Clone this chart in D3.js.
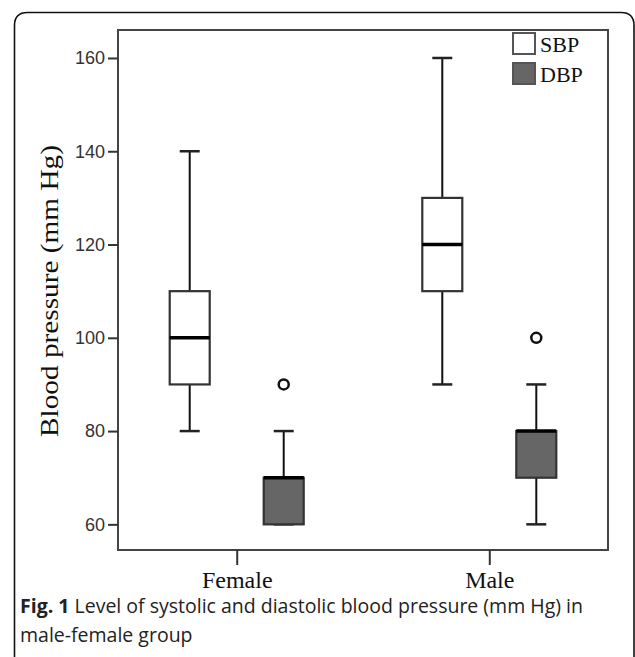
<!DOCTYPE html>
<html>
<head>
<meta charset="utf-8">
<script src="https://cdn.jsdelivr.net/npm/d3@7"></script>
<style>
  body { margin: 0; background: #fff; }
  svg { display: block; }
</style>
</head>
<body>
<div id="chart"></div>
<script>
// data
var groups = ["Female", "Male"];
var series = ["SBP", "DBP"];
// [min, q1, median, q3, max] per group
var sbpStats = [[80, 90, 100, 110, 140], [90, 110, 120, 130, 160]];
var dbpStats = [[60, 60, 70, 70, 80], [60, 70, 80, 80, 90]];
var sbpOutliers = [[], []];
var dbpOutliers = [[90], [100]];
var yTicks = [60, 80, 100, 120, 140, 160];
var seriesFill = { "SBP": "#ffffff", "DBP": "#666666" };

var width = 635, height = 657;
var frame = { left: 118, top: 30, right: 608, bottom: 550 };

var svg = d3.select("#chart").append("svg")
  .attr("width", width)
  .attr("height", height);

// outer rounded border (cut off at bottom)
var r = 13;
svg.append("path")
  .attr("d", "M14.5," + (height + 5) + " L14.5," + (12.5 + r) +
    " Q14.5,12.5 " + (14.5 + r) + ",12.5 L" + (634 - r) + ",12.5 Q634,12.5 634," + (12.5 + r) +
    " L634," + (height + 5))
  .attr("fill", "none")
  .attr("stroke", "#111")
  .attr("stroke-width", 1.6);

var y = d3.scaleLinear()
  .domain([54.5, 166])
  .range([frame.bottom, frame.top]);

var x = d3.scalePoint()
  .domain(groups)
  .range([frame.left, frame.right])
  .padding(0.47);

var xs = d3.scalePoint()
  .domain(series)
  .range([-47, 47]);

// data table for boxes
var boxes = [];
groups.forEach(function (g, i) {
  boxes.push({ group: g, series: "SBP", s: sbpStats[i], out: sbpOutliers[i] });
  boxes.push({ group: g, series: "DBP", s: dbpStats[i], out: dbpOutliers[i] });
});

var boxW = 40, capW = 20;

var plot = svg.append("g");

var b = plot.selectAll(".box")
  .data(boxes).enter()
  .append("g").attr("class", "box")
  .attr("transform", function (d) { return "translate(" + (x(d.group) + xs(d.series)) + ",0)"; });

// whiskers
b.append("line")
  .attr("x1", 0).attr("x2", 0)
  .attr("y1", function (d) { return y(d.s[4]); })
  .attr("y2", function (d) { return y(d.s[3]); })
  .attr("stroke", "#111").attr("stroke-width", 2);
b.append("line")
  .attr("x1", 0).attr("x2", 0)
  .attr("y1", function (d) { return y(d.s[1]); })
  .attr("y2", function (d) { return y(d.s[0]); })
  .attr("stroke", "#111").attr("stroke-width", 2);
// caps
b.append("line")
  .attr("x1", -capW / 2).attr("x2", capW / 2)
  .attr("y1", function (d) { return y(d.s[4]); })
  .attr("y2", function (d) { return y(d.s[4]); })
  .attr("stroke", "#222").attr("stroke-width", 2.5);
b.append("line")
  .attr("x1", -capW / 2).attr("x2", capW / 2)
  .attr("y1", function (d) { return y(d.s[0]); })
  .attr("y2", function (d) { return y(d.s[0]); })
  .attr("stroke", "#222").attr("stroke-width", 2.5);
// box
b.append("rect")
  .attr("x", -boxW / 2)
  .attr("width", boxW)
  .attr("y", function (d) { return y(d.s[3]); })
  .attr("height", function (d) { return y(d.s[1]) - y(d.s[3]); })
  .attr("fill", function (d) { return seriesFill[d.series]; })
  .attr("stroke", "#333")
  .attr("stroke-width", 2.2);
// median
b.append("line")
  .attr("x1", -boxW / 2).attr("x2", boxW / 2)
  .attr("y1", function (d) { return y(d.s[2]); })
  .attr("y2", function (d) { return y(d.s[2]); })
  .attr("stroke", "#000").attr("stroke-width", 3.5);
// outliers
b.selectAll("circle")
  .data(function (d) { return d.out; }).enter()
  .append("circle")
  .attr("cx", 0)
  .attr("cy", function (v) { return y(v); })
  .attr("r", 5)
  .attr("fill", "#fff")
  .attr("stroke", "#111")
  .attr("stroke-width", 2.5);

// frame
svg.append("rect")
  .attr("x", frame.left).attr("y", frame.top)
  .attr("width", frame.right - frame.left)
  .attr("height", frame.bottom - frame.top)
  .attr("fill", "none")
  .attr("stroke", "#444")
  .attr("stroke-width", 2);

// y axis
var yAxis = svg.append("g")
  .attr("transform", "translate(" + frame.left + ",0)")
  .call(d3.axisLeft(y).tickValues(yTicks).tickSize(10).tickPadding(3));
yAxis.select(".domain").remove();
yAxis.selectAll(".tick line").attr("stroke", "#333").attr("stroke-width", 2);
yAxis.selectAll(".tick text")
  .attr("fill", "#333")
  .style("font-family", "'Liberation Sans', Arial, sans-serif")
  .style("font-size", "18px");

// x axis
var xAxis = svg.append("g")
  .attr("transform", "translate(0," + frame.bottom + ")")
  .call(d3.axisBottom(x).tickSize(15).tickPadding(6));
xAxis.select(".domain").remove();
xAxis.selectAll(".tick line").attr("stroke", "#333").attr("stroke-width", 2);
xAxis.selectAll(".tick text")
  .attr("fill", "#111")
  .attr("dy", "0.72em")
  .style("font-family", "'Liberation Serif', 'Times New Roman', serif")
  .style("font-size", "24px");

// y title
svg.append("text")
  .attr("transform", "translate(58,291) rotate(-90)")
  .attr("text-anchor", "middle")
  .attr("textLength", 292)
  .attr("lengthAdjust", "spacingAndGlyphs")
  .style("font-family", "'Liberation Serif', 'Times New Roman', serif")
  .style("font-size", "25px")
  .attr("fill", "#111")
  .text("Blood pressure (mm Hg)");

// legend
var legend = svg.selectAll(".legend")
  .data(series).enter()
  .append("g").attr("class", "legend")
  .attr("transform", function (d, i) { return "translate(513," + (33 + i * 30) + ")"; });
legend.append("rect")
  .attr("width", 22).attr("height", 21)
  .attr("fill", function (d) { return seriesFill[d]; })
  .attr("stroke", "#555")
  .attr("stroke-width", 2);
legend.append("text")
  .attr("x", 27).attr("y", 19)
  .style("font-family", "'Liberation Serif', 'Times New Roman', serif")
  .style("font-size", "22px")
  .attr("fill", "#111")
  .text(function (d) { return d; });

// caption
var cap = svg.append("text")
  .attr("x", 20).attr("y", 613)
  .style("font-family", "'Open Sans', 'Noto Sans', sans-serif")
  .style("font-size", "19.5px")
  .attr("fill", "#222");
cap.append("tspan").style("font-weight", "bold").text("Fig. 1");
cap.append("tspan").text(" Level of systolic and diastolic blood pressure (mm Hg) in");
svg.append("text")
  .attr("x", 20).attr("y", 642)
  .style("font-family", "'Open Sans', 'Noto Sans', sans-serif")
  .style("font-size", "19.5px")
  .attr("fill", "#222")
  .text("male-female group");
</script>
</body>
</html>
